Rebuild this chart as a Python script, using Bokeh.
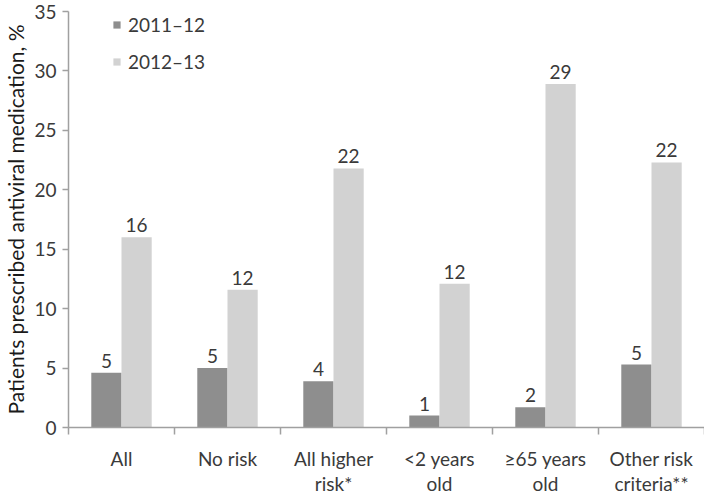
from bokeh.plotting import figure
from bokeh.models import ColumnDataSource, FixedTicker, Range1d, Legend, LegendItem
from bokeh.core.properties import value
from bokeh.embed import file_html
from bokeh.resources import INLINE

categories = ["All", "No risk", "All higher\nrisk*", "<2 years\nold", "\u226565 years\nold", "Other risk\ncriteria**"]
series_names = ["2011\u201312", "2012\u201313"]
values_2011 = [4.6, 5.0, 3.9, 1.0, 1.7, 5.3]
values_2012 = [16.0, 11.6, 21.8, 12.1, 28.9, 22.3]
labels_2011 = ["5", "5", "4", "1", "2", "5"]
labels_2012 = ["16", "12", "22", "12", "29", "22"]
y_ticks = [0, 5, 10, 15, 20, 25, 30, 35]

FONT = "Lato"
TXT = "#3a3a3a"
DARK = "#8e8e8e"
LIGHT = "#d2d2d2"
BW = 0.285
FS = "19px"

centers = [i + 0.5 for i in range(len(categories))]
src1 = ColumnDataSource(dict(x=[c - BW / 2 for c in centers], top=values_2011, lab=labels_2011))
src2 = ColumnDataSource(dict(x=[c + BW / 2 for c in centers], top=values_2012, lab=labels_2012))

p = figure(width=704, height=497, output_backend="svg", toolbar_location=None,
           x_range=Range1d(0, len(categories)), y_range=Range1d(0, 35),
           min_border_left=56, min_border_top=11, min_border_right=0, min_border_bottom=0)
p.outline_line_color = None
p.xgrid.visible = False
p.ygrid.visible = False

r1 = p.vbar(x="x", top="top", width=BW, bottom=0, source=src1, fill_color=DARK, line_color=None)
r2 = p.vbar(x="x", top="top", width=BW, bottom=0, source=src2, fill_color=LIGHT, line_color=None)

for s in (src1, src2):
    p.text(x="x", y="top", text="lab", source=s, text_align="center", text_baseline="alphabetic",
           y_offset=-12, text_font=value(FONT), text_font_size=FS, text_color=TXT)

# x axis
xa = p.xaxis[0]
xa.ticker = FixedTicker(ticks=centers, minor_ticks=list(range(len(categories) + 1)))
xa.major_label_overrides = {c: lab for c, lab in zip(centers, categories)}
xa.major_tick_line_color = None
xa.minor_tick_out = 7
xa.minor_tick_in = 0
xa.minor_tick_line_color = "#a0a0a0"
xa.minor_tick_line_width = 1.5
xa.axis_line_color = "#a0a0a0"
xa.axis_line_width = 1.5
xa.major_label_text_font = FONT
xa.major_label_text_font_size = FS
xa.major_label_text_color = TXT
xa.major_label_text_line_height = 1.1
xa.major_label_standoff = 12

# y axis
ya = p.yaxis[0]
ya.ticker = FixedTicker(ticks=y_ticks)
ya.minor_tick_line_color = None
ya.major_tick_out = 6
ya.major_tick_in = 0
ya.major_tick_line_color = "#a0a0a0"
ya.major_tick_line_width = 1.5
ya.axis_line_color = "#a0a0a0"
ya.axis_line_width = 1.5
ya.major_label_text_font = FONT
ya.major_label_text_font_size = FS
ya.major_label_text_color = TXT
ya.major_label_standoff = 6
ya.axis_label = "Patients prescribed antiviral medication, %"
ya.axis_label_text_font = FONT
ya.axis_label_text_font_size = "21px"
ya.axis_label_text_font_style = "normal"
ya.axis_label_text_color = "#1a1a1a"
ya.axis_label_standoff = 3

legend = Legend(items=[LegendItem(label=series_names[0], renderers=[r1]),
                       LegendItem(label=series_names[1], renderers=[r2])],
                location=(44, 354), orientation="vertical")
legend.background_fill_alpha = 0
legend.border_line_color = None
legend.padding = 0
legend.margin = 0
legend.spacing = 14
legend.glyph_width = 9
legend.glyph_height = 9
legend.label_standoff = 7
legend.label_text_font = FONT
legend.label_text_font_size = FS
legend.label_text_color = TXT
legend.label_height = 22
p.add_layout(legend)

open("out.html", "w").write(file_html(p, INLINE))
